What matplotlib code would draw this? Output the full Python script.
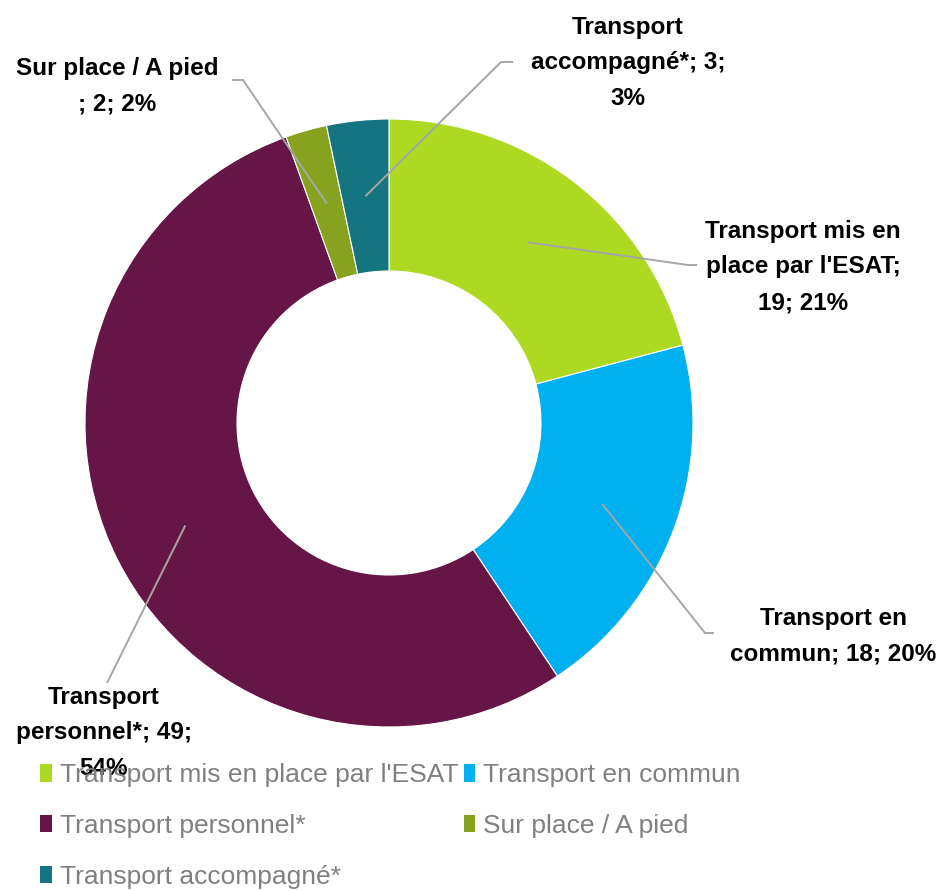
import matplotlib.pyplot as plt
import numpy as np
from matplotlib.patches import Patch

plt.rcParams['font.family'] = ['Liberation Sans Narrow', 'Liberation Sans', 'DejaVu Sans']

labels = ["Transport mis en place par l'ESAT", "Transport en commun", "Transport personnel*",
          "Sur place / A pied", "Transport accompagné*"]
values = [19, 18, 49, 2, 3]
percents = ["21%", "20%", "54%", "2%", "3%"]
colors = ['#ADD922', '#00B0F0', '#651546', '#86A21E', '#147480']

# data label text, as wrapped in the chart
label_texts = ["Transport mis en\nplace par l'ESAT;\n19; 21%",
               "Transport en\ncommun; 18; 20%",
               "Transport\npersonnel*; 49;\n54%",
               "Sur place / A pied\n; 2; 2%",
               "Transport\naccompagné*; 3;\n3%"]

W, H = 945, 891
fig = plt.figure(figsize=(W / 100, H / 100), dpi=100)
ax = fig.add_axes([0, 0, 1, 1])

cx, cy, R = 389, H - 423, 304
wedges, _ = ax.pie(values, colors=colors, startangle=90, counterclock=False,
                   radius=R, center=(cx, cy), frame=True,
                   wedgeprops=dict(width=R - 152, edgecolor='white', linewidth=0.8))
ax.set_xlim(0, W)
ax.set_ylim(0, H)
ax.set_aspect('equal')
ax.axis('off')

# label layout: text centre, leader elbow, leader end (pixels from top-left)
text_pos = [(803, 267), (833, 636), (104, 733), (117, 86), (628, 63)]
elbows = [(688, 265), (705, 633), (107, 683), (243, 80), (501, 62)]
ends = [(697, 265), (714, 633), (107, 683), (232, 80), (513, 62)]

for w, txt, tp, el, en in zip(wedges, label_texts, text_pos, elbows, ends):
    mid = np.deg2rad((w.theta1 + w.theta2) / 2)
    ax_pt = (cx + 228 * np.cos(mid), cy + 228 * np.sin(mid))
    ax.plot([ax_pt[0], el[0], en[0]], [ax_pt[1], H - el[1], H - en[1]],
            color='#A6A6A6', lw=1.4, solid_capstyle='butt')
    ax.text(tp[0], H - tp[1], txt, ha='center', va='center', fontsize=17.5,
            fontweight='bold', color='black', linespacing=1.72)

order = [0, 2, 4, 1, 3]
handles = [Patch(facecolor=colors[i], label=labels[i]) for i in order]
fig.legend(handles=handles, loc='upper left', bbox_to_anchor=(40 / W, 1 - 763 / H),
           ncol=2, frameon=False, fontsize=19, labelcolor='#808080',
           handlelength=0.45, handleheight=0.65, handletextpad=0.3,
           labelspacing=1.02, columnspacing=0.2, borderpad=0, borderaxespad=0)

fig.savefig('out.png', dpi=100)
